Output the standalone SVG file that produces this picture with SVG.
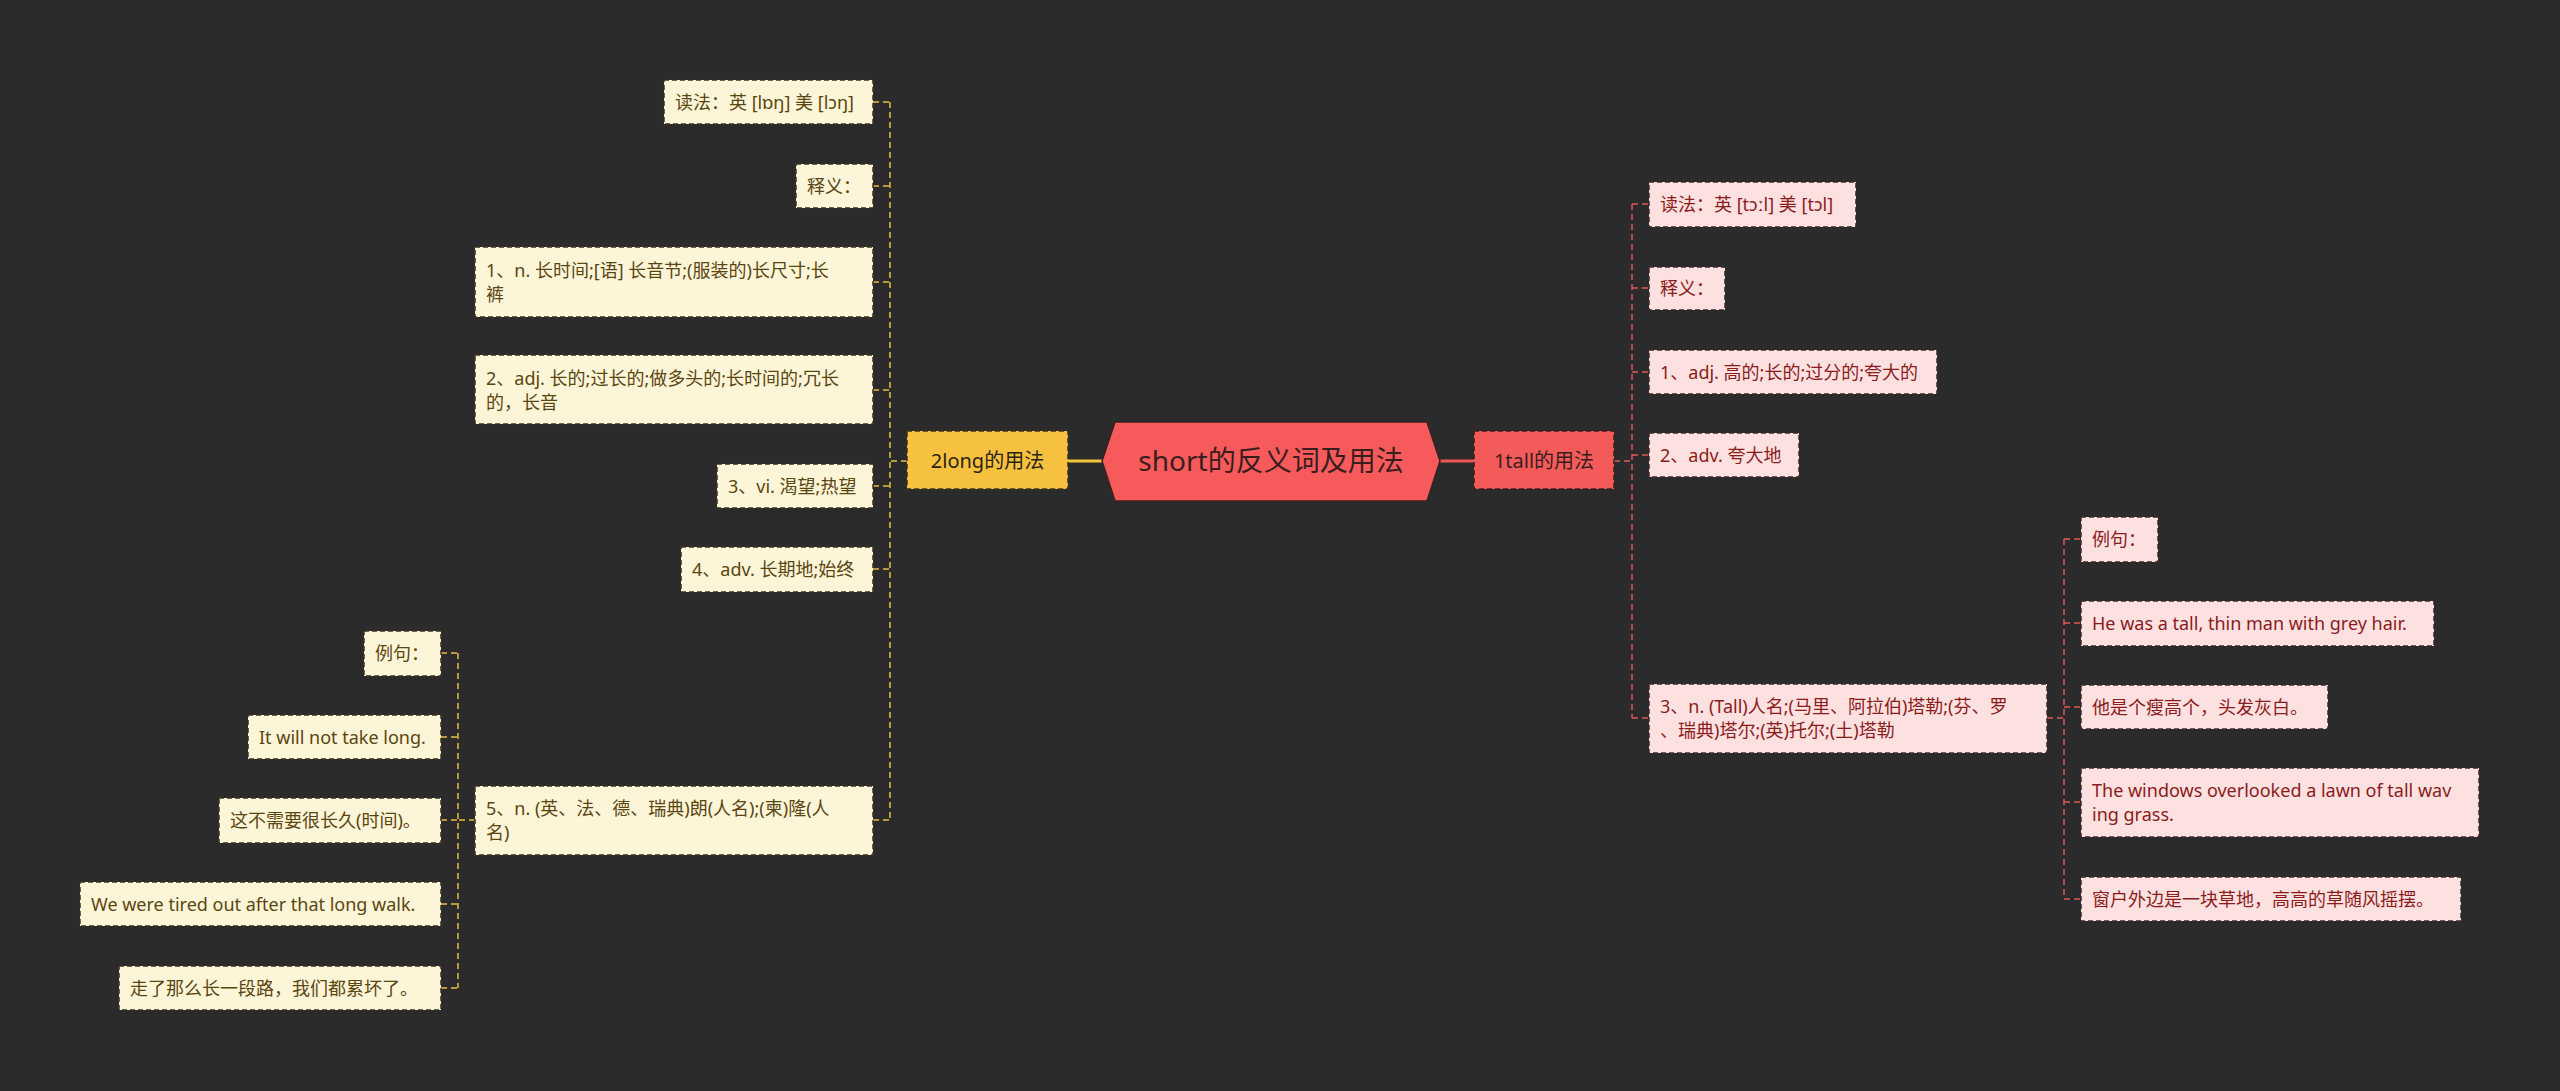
<svg xmlns="http://www.w3.org/2000/svg" width="2560" height="1091" viewBox="0 0 2560 1091">
<style>
text{font-family:"Noto Sans","Noto Sans CJK SC",sans-serif;}
.bg{fill:#2b2b2b;}
.ly rect{fill:#fdf5d8;stroke:#3a3320;stroke-width:1.5;stroke-dasharray:5 3;}
.ly text{fill:#5a4610;font-size:18px;}
.lp rect{fill:#fde0e0;stroke:#3a2a2a;stroke-width:1.5;stroke-dasharray:5 3;}
.lp text{fill:#8a1c1c;font-size:18px;}
.cy{fill:none;stroke:#e8bf45;stroke-width:1.5;stroke-dasharray:6 4;}
.cr{fill:none;stroke:#e05a5a;stroke-width:1.5;stroke-dasharray:6 4;}
</style>
<rect class="bg" x="0" y="0" width="2560" height="1091"/>
<g id="connectors">
<line x1="1068" y1="461" x2="1102" y2="461" stroke="#f2c53a" stroke-width="3"/>
<line x1="1440" y1="461" x2="1474" y2="461" stroke="#f05858" stroke-width="3"/>
<path class="cy" d="M907 461H890M890 102V820M873 102H890M873 186H890M873 282H890M873 390H890M873 486H890M873 569H890M873 820H890"/>
<path class="cy" d="M475 820H458M458 653V988M441 653H458M441 737H458M441 820H458M441 904H458M441 988H458"/>
<path class="cr" d="M1614 461H1632M1632 204V718M1632 204H1649M1632 288H1649M1632 372H1649M1632 455H1649M1632 718H1649"/>
<path class="cr" d="M2047 718H2064M2064 539V899M2064 539H2081M2064 623H2081M2064 707H2081M2064 802H2081M2064 899H2081"/>
</g>
<g id="root">
<polygon points="1102,461 1115,422 1427,422 1440,461 1427,501 1115,501" fill="#f65a5a" stroke="#3a2020" stroke-width="1.5"/>
<text x="1271" y="471" font-size="28" text-anchor="middle" fill="#3a1e1e">short的反义词及用法</text>
</g>
<g id="long">
<rect x="907" y="431" width="161" height="58" fill="#f7c140" stroke="#3a3020" stroke-width="1.5" stroke-dasharray="5 3"/>
<text x="987.5" y="468" font-size="20" text-anchor="middle" fill="#2b2416">2long的用法</text>
</g>
<g id="tall">
<rect x="1474" y="431" width="140" height="58" fill="#f35b5b" stroke="#3a2020" stroke-width="1.5" stroke-dasharray="5 3"/>
<text x="1544" y="468" font-size="20" text-anchor="middle" fill="#3a1e1e">1tall的用法</text>
</g>
<g id="l-read" class="ly"><rect x="664" y="80" width="209" height="44"/><text x="675" y="109">读法：英 [lɒŋ] 美 [lɔŋ]</text></g>
<g id="l-def" class="ly"><rect x="796" y="164" width="77" height="44"/><text x="807" y="193">释义：</text></g>
<g id="l-1" class="ly"><rect x="475" y="247" width="398" height="70"/><text x="486" y="277">1、n. 长时间;[语] 长音节;(服装的)长尺寸;长</text><text x="486" y="301">裤</text></g>
<g id="l-2" class="ly"><rect x="475" y="355" width="398" height="69"/><text x="486" y="385">2、adj. 长的;过长的;做多头的;长时间的;冗长</text><text x="486" y="409">的，长音</text></g>
<g id="l-3" class="ly"><rect x="717" y="464" width="156" height="44"/><text x="728" y="493">3、vi. 渴望;热望</text></g>
<g id="l-4" class="ly"><rect x="681" y="547" width="192" height="45"/><text x="692" y="576">4、adv. 长期地;始终</text></g>
<g id="l-5" class="ly"><rect x="475" y="786" width="398" height="69"/><text x="486" y="815">5、n. (英、法、德、瑞典)朗(人名);(柬)隆(人</text><text x="486" y="839">名)</text></g>
<g id="l-ex" class="ly"><rect x="364" y="631" width="77" height="45"/><text x="375" y="660">例句：</text></g>
<g id="l-ex1" class="ly"><rect x="248" y="715" width="193" height="44"/><text x="259" y="744">It will not take long.</text></g>
<g id="l-ex2" class="ly"><rect x="219" y="798" width="222" height="45"/><text x="230" y="827">这不需要很长久(时间)。</text></g>
<g id="l-ex3" class="ly"><rect x="80" y="882" width="361" height="44"/><text x="91" y="911">We were tired out after that long walk.</text></g>
<g id="l-ex4" class="ly"><rect x="119" y="966" width="322" height="44"/><text x="130" y="995">走了那么长一段路，我们都累坏了。</text></g>
<g id="t-read" class="lp"><rect x="1649" y="182" width="207" height="45"/><text x="1660" y="211">读法：英 [tɔːl] 美 [tɔl]</text></g>
<g id="t-def" class="lp"><rect x="1649" y="267" width="76" height="43"/><text x="1660" y="295">释义：</text></g>
<g id="t-1" class="lp"><rect x="1649" y="350" width="288" height="44"/><text x="1660" y="379">1、adj. 高的;长的;过分的;夸大的</text></g>
<g id="t-2" class="lp"><rect x="1649" y="433" width="150" height="44"/><text x="1660" y="462">2、adv. 夸大地</text></g>
<g id="t-3" class="lp"><rect x="1649" y="684" width="398" height="69"/><text x="1660" y="713">3、n. (Tall)人名;(马里、阿拉伯)塔勒;(芬、罗</text><text x="1660" y="737">、瑞典)塔尔;(英)托尔;(土)塔勒</text></g>
<g id="t-ex" class="lp"><rect x="2081" y="517" width="77" height="45"/><text x="2092" y="546">例句：</text></g>
<g id="t-ex1" class="lp"><rect x="2081" y="601" width="353" height="45"/><text x="2092" y="630">He was a tall, thin man with grey hair.</text></g>
<g id="t-ex2" class="lp"><rect x="2081" y="685" width="247" height="44"/><text x="2092" y="714">他是个瘦高个，头发灰白。</text></g>
<g id="t-ex3" class="lp"><rect x="2081" y="768" width="398" height="69"/><text x="2092" y="797">The windows overlooked a lawn of tall wav</text><text x="2092" y="821">ing grass.</text></g>
<g id="t-ex4" class="lp"><rect x="2081" y="877" width="380" height="44"/><text x="2092" y="906">窗户外边是一块草地，高高的草随风摇摆。</text></g>
</svg>
